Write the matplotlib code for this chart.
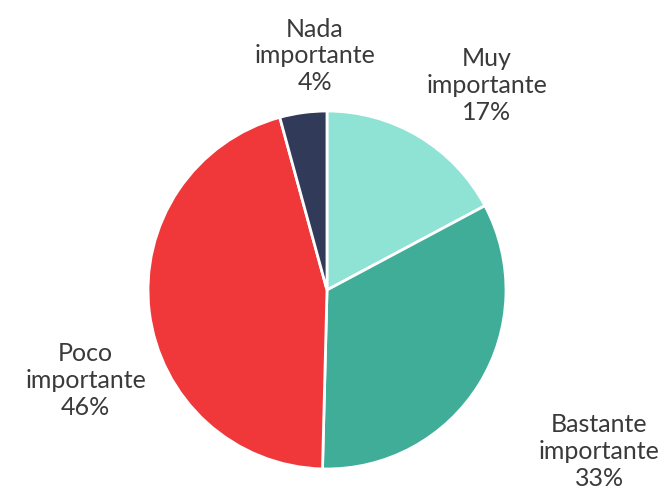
import matplotlib
matplotlib.use("Agg")
import matplotlib.pyplot as plt
import numpy as np

labels = ["Muy\nimportante\n17%", "Bastante\nimportante\n33%", "Poco\nimportante\n46%", "Nada\nimportante\n4%"]
values = [17.2, 33.2, 45.35, 4.25]
colors = ["#8FE3D5", "#3FAD98", "#F0383A", "#323A5A"]
# label placement: (angle deg, distance in radii)
label_pos = [(52, 1.45), (-30.7, 1.77), (-159.5, 1.44), (93, 1.31)]

fig = plt.figure(figsize=(6.63, 4.91), dpi=100)
ax = fig.add_axes([0, 0, 1, 1])
ax.pie(values, colors=colors, startangle=90, counterclock=False, radius=1,
       wedgeprops=dict(edgecolor="white", linewidth=2))
for lab, (ang, d) in zip(labels, label_pos):
    a = np.deg2rad(ang)
    ax.text(d * np.cos(a), d * np.sin(a), lab, ha="center", va="center",
            fontsize=18, family="Lato", color="#3a3a3a",
            linespacing=1.2)
R = 179.0
ax.set_xlim(-327 / R, (663 - 327) / R)
ax.set_ylim(-(491 - 290) / R, 290 / R)
ax.set_aspect("auto")
ax.axis("off")
fig.savefig("out.png", dpi=100)
